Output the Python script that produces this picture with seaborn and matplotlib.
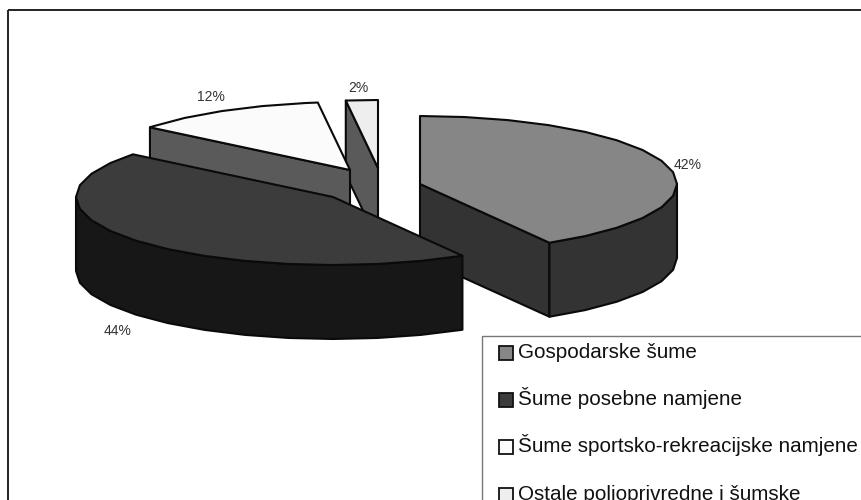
import numpy as np
import matplotlib
matplotlib.use("Agg")
import matplotlib.pyplot as plt
from matplotlib.patches import Polygon, Rectangle
import seaborn as sns

categories = ["Gospodarske šume", "Šume posebne namjene",
              "Šume sportsko-rekreacijske namjene", "Ostale poljoprivredne i šumske"]
shares = [41.6, 44.2, 12.2, 2.0]
pct_labels = ["42%", "44%", "12%", "2%"]

top_colors = ["#868686", "#3c3c3c", "#fbfbfb", "#eeeeee"]
side_colors = ["#333333", "#171717", "#5a5a5a", "#5a5a5a"]

# Projection of the pie (pixels)
W, H = 861, 500
RX, RY, DEPTH = 257, 68, 74
CX, CY = 372, 187
EXPLODE_DX = [48, -39, -22, 6]
EXPLODE_DY = [-3, 10, -17, -19]
LABEL_POS = [(688, 165), (118, 331), (211, 97), (358, 88)]
VISIBLE_WALL = {0: "end", 2: "start", 3: "start"}
STEP = np.radians(10)

sns.set_theme(style="white")
plt.rcParams["font.family"] = ["Liberation Sans", "DejaVu Sans"]

fig = plt.figure(figsize=(W / 100, H / 100), dpi=100)
ax = fig.add_axes([0, 0, 1, 1])
ax.set_xlim(0, W)
ax.set_ylim(H, 0)
ax.axis("off")

fracs = np.array(shares, dtype=float) / sum(shares)
ends = np.cumsum(fracs) * 2 * np.pi
starts = ends - fracs * 2 * np.pi


def arc(cx, cy, a, b):
    grid = np.arange(np.ceil(a / STEP), np.floor(b / STEP) + 1) * STEP
    t = np.unique(np.concatenate([[a], grid, [b]]))
    return np.column_stack([cx + RX * np.sin(t), cy - RY * np.cos(t)])


def face(points, color, z):
    ax.add_patch(Polygon(points, closed=True, fc=color, ec="#0a0a0a", lw=1.5,
                         joinstyle="round", zorder=z))


order = [3, 2, 0, 1]
drop = np.array([0, DEPTH])
for z, i in enumerate(order):
    cx, cy = CX + EXPLODE_DX[i], CY + EXPLODE_DY[i]
    a, b = starts[i], ends[i]
    base = z * 10 + 1
    apex = np.array([cx, cy])
    # radial wall that faces the viewer
    if i in VISIBLE_WALL:
        ang = b if VISIBLE_WALL[i] == "end" else a
        tip = np.array([cx + RX * np.sin(ang), cy - RY * np.cos(ang)])
        face([apex, tip, tip + drop, apex + drop], side_colors[i], base)
    # outer rim visible on the front half of the ellipse
    lo, hi = max(a, np.pi / 2), min(b, 3 * np.pi / 2)
    if hi > lo:
        rim = arc(cx, cy, lo, hi)
        face(np.vstack([rim, (rim + drop)[::-1]]), side_colors[i], base + 1)
    # top surface
    face(np.vstack([apex, arc(cx, cy, a, b)]), top_colors[i], base + 2)

for pos, txt in zip(LABEL_POS, pct_labels):
    ax.text(pos[0], pos[1], txt, fontsize=10, color="#333333", ha="center", va="center", zorder=80)

# Chart frame and legend box, both running off the picture
ax.add_patch(Rectangle((8, 10), W, H, fc="none", ec="#222222", lw=1.4, zorder=90))
ax.add_patch(Rectangle((482, 336), W, H, fc="white", ec="#777777", lw=1.0, zorder=91))

LEG_BASE = [358, 405, 452, 500]
for y, name, col in zip(LEG_BASE, categories, top_colors):
    ax.add_patch(Rectangle((498.5, y - 12), 14, 14, fc=col, ec="#111111", lw=1.3, zorder=92))
    ax.text(518, y, name, fontsize=14.9, color="#111111", va="baseline", ha="left", zorder=92)

fig.savefig("out.png", dpi=100)
